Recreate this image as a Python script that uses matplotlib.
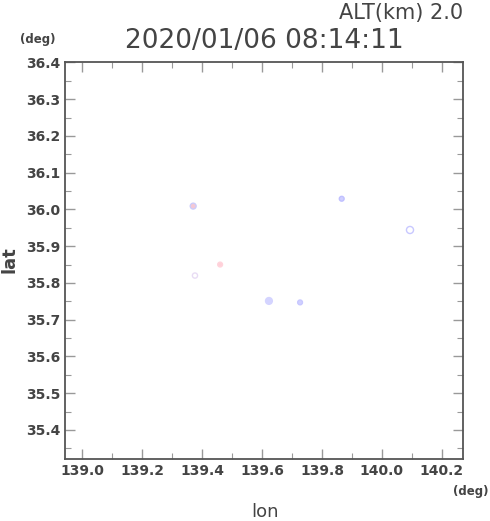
import matplotlib
matplotlib.use("Agg")
import matplotlib.pyplot as plt
from matplotlib.ticker import MultipleLocator

# observed points (lon, lat) and their colours
lons = [139.37, 139.866, 140.094, 139.46, 139.376, 139.623, 139.727]
lats = [36.009, 36.029, 35.944, 35.850, 35.820, 35.751, 35.747]
faces = ['#f4c8d4', '#d0d0ff', 'none', '#ffd0d8', 'none', '#d4d4ff', '#d0d0ff']
edges = ['#ccccfa', '#c0c0ff', '#c8c8ff', '#ffd4dc', '#e8dcf4', '#d4d4ff', '#c8c8ff']
sizes = [18, 12, 26, 12, 14, 24, 12]

title = '2020/01/06 08:14:11'
alt_text = 'ALT(km) 2.0'

grey = '#444444'
plt.rcParams['font.family'] = 'DejaVu Sans'

fig = plt.figure(figsize=(4.9, 5.21), dpi=100)
ax = fig.add_axes([65/490, 1 - 459/521, 398/490, 397/521])

ax.scatter(lons, lats, s=sizes, c=faces, edgecolors=edges, linewidths=1.0, zorder=3)

ax.set_xlim(138.942, 140.271)
ax.set_ylim(35.321, 36.401)
ax.xaxis.set_major_locator(MultipleLocator(0.2))
ax.xaxis.set_minor_locator(MultipleLocator(0.1))
ax.yaxis.set_major_locator(MultipleLocator(0.1))
ax.yaxis.set_minor_locator(MultipleLocator(0.05))
ax.xaxis.set_major_formatter(lambda v, p: f'{v:.1f}')
ax.yaxis.set_major_formatter(lambda v, p: f'{v:.1f}')

ax.tick_params(which='both', direction='in', top=True, right=True,
               colors='#999999', labelcolor=grey, labelsize=10)
ax.tick_params(which='major', length=7, width=1)
ax.tick_params(which='minor', length=4, width=0.8)
for lab in ax.get_xticklabels() + ax.get_yticklabels():
    lab.set_fontweight('bold')
for sp in ax.spines.values():
    sp.set_color('#555555')
    sp.set_linewidth(1.3)

fig.text(463/490, 1 - 13/521, alt_text, ha='right', va='center', fontsize=15, color=grey)
fig.text(264/490, 1 - 41/521, title, ha='center', va='center', fontsize=19, color=grey)
fig.text(38/490, 1 - 40/521, '(deg)', ha='center', va='center', fontsize=8.5,
         color=grey, fontweight='bold')
fig.text(471/490, 1 - 492/521, '(deg)', ha='center', va='center', fontsize=8.5,
         color=grey, fontweight='bold')
fig.text(265/490, 1 - 512/521, 'lon', ha='center', va='center', fontsize=13, color=grey)
fig.text(9/490, 1 - 260/521, 'lat', ha='center', va='center', fontsize=13,
         color=grey, rotation=90, fontweight='bold')

fig.savefig('out.png', dpi=100)
